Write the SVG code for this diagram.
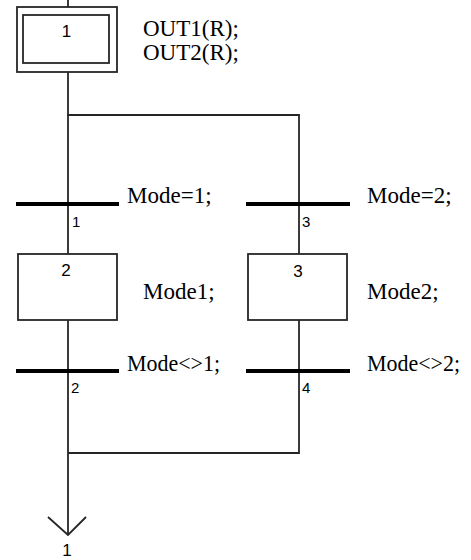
<svg xmlns="http://www.w3.org/2000/svg" width="471" height="560" viewBox="0 0 471 560">
<style>
.ln{stroke:#262626;stroke-width:1.8;fill:none}
.bar{stroke:#000;stroke-width:4;fill:none}
.box{stroke:#262626;stroke-width:1.8;fill:#fff}
.act{font-family:"Liberation Serif","Times New Roman",serif;font-size:23px;fill:#000}
.num{font-family:"Liberation Sans",Arial,sans-serif;font-size:17px;fill:#000;text-anchor:middle}
.tn{font-family:"Liberation Sans",Arial,sans-serif;font-size:15px;fill:#000}
</style>
<rect width="471" height="560" fill="#fff"/>
<g id="connectors">
<line class="ln" x1="68" y1="0" x2="68" y2="7"/>
<line class="ln" x1="68" y1="72" x2="68" y2="254"/>
<line class="ln" x1="67.1" y1="115" x2="299.9" y2="115"/>
<line class="ln" x1="299" y1="115" x2="299" y2="254"/>
<line class="ln" x1="68" y1="320" x2="68" y2="535"/>
<line class="ln" x1="299" y1="320" x2="299" y2="453.9"/>
<line class="ln" x1="68" y1="453" x2="299" y2="453"/>
<polyline class="ln" points="48,517 68,535 86,517" stroke-width="1.3"/>
</g>
<g id="step1">
<rect class="box" x="17" y="7" width="100" height="65"/>
<rect class="box" x="23" y="15" width="86" height="48"/>
<text class="num" x="66.5" y="37">1</text>
<text class="act" x="143" y="36">OUT1(R);</text>
<text class="act" x="143" y="60">OUT2(R);</text>
</g>
<g id="t1">
<line class="bar" x1="16" y1="204" x2="119" y2="204"/>
<text class="tn" x="72" y="227">1</text>
<text class="act" x="127" y="203">Mode=1;</text>
</g>
<g id="t3">
<line class="bar" x1="246" y1="204" x2="350" y2="204"/>
<text class="tn" x="302" y="227">3</text>
<text class="act" x="367" y="203">Mode=2;</text>
</g>
<g id="step2">
<rect class="box" x="18" y="254" width="99" height="66"/>
<text class="num" x="66" y="276">2</text>
<text class="act" x="143" y="299">Mode1;</text>
</g>
<g id="step3">
<rect class="box" x="248" y="254" width="99" height="66"/>
<text class="num" x="298" y="277">3</text>
<text class="act" x="367" y="299">Mode2;</text>
</g>
<g id="t2">
<line class="bar" x1="16" y1="371" x2="119" y2="371"/>
<text class="tn" x="71" y="393">2</text>
<text class="act" x="127" y="371" textLength="93" lengthAdjust="spacingAndGlyphs">Mode&lt;&gt;1;</text>
</g>
<g id="t4">
<line class="bar" x1="246" y1="371" x2="350" y2="371"/>
<text class="tn" x="302" y="393">4</text>
<text class="act" x="367" y="371" textLength="93" lengthAdjust="spacingAndGlyphs">Mode&lt;&gt;2;</text>
</g>
<g id="jump1">
<text class="num" x="67" y="556">1</text>
</g>
</svg>
